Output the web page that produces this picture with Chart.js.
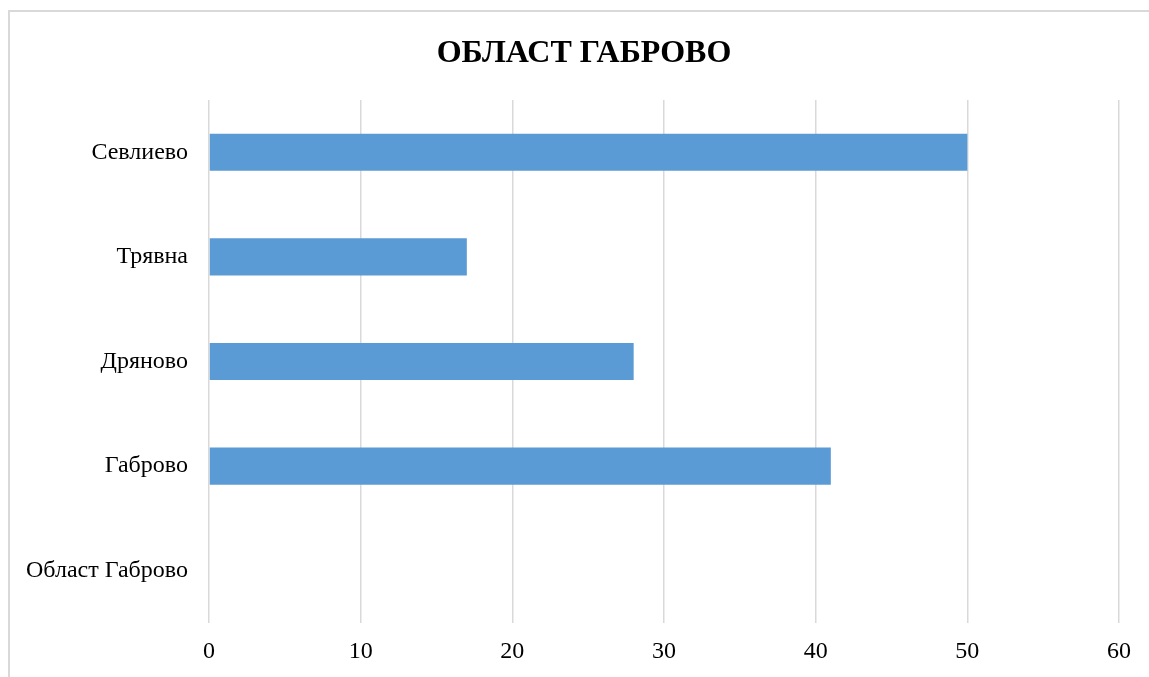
<!DOCTYPE html>
<html>
<head>
<meta charset="utf-8">
<script src="https://cdn.jsdelivr.net/npm/chart.js@4"></script>
<style>
html,body{margin:0;padding:0;background:#fff;overflow:hidden;}
#wrap{position:relative;width:1149px;height:677px;}
#frame{position:absolute;left:8px;top:10px;width:1300px;height:900px;border:2px solid #d9d9d9;box-sizing:border-box;}
canvas{position:absolute;left:0;top:0;}
</style>
</head>
<body>
<div id="wrap">
<div id="frame"></div>
<canvas id="c" width="1149" height="677"></canvas>
</div>
<script>
const chartTitle = "ОБЛАСТ ГАБРОВО";
const categories = ["Севлиево", "Трявна", "Дряново", "Габрово", "Област Габрово"];
const values = [50, 17, 28, 41, null];
const xTicks = [0, 10, 20, 30, 40, 50, 60];

const serif = "'Liberation Serif', 'Times New Roman', serif";

const titlePlugin = {
  id: 'frameTitle',
  afterDraw(chart) {
    const ctx = chart.ctx;
    ctx.save();
    ctx.font = "bold 32px " + serif;
    ctx.fillStyle = '#000';
    ctx.textAlign = 'center';
    ctx.textBaseline = 'alphabetic';
    ctx.fillText(chartTitle, 584, 62);
    ctx.restore();
  }
};

new Chart(document.getElementById('c'), {
  type: 'bar',
  data: {
    labels: categories,
    datasets: [{
      data: values,
      backgroundColor: '#5b9bd5',
      borderWidth: 0,
      barPercentage: 0.355,
      categoryPercentage: 1.0
    }]
  },
  plugins: [titlePlugin],
  options: {
    indexAxis: 'y',
    responsive: false,
    animation: false,
    devicePixelRatio: 1,
    layout: { padding: { left: 0, right: 30, top: 100, bottom: 0 } },
    plugins: {
      legend: { display: false },
      tooltip: { enabled: false },
      title: { display: false }
    },
    scales: {
      x: {
        min: xTicks[0],
        max: xTicks[xTicks.length - 1],
        afterBuildTicks: (s) => { s.ticks = xTicks.map(v => ({ value: v })); },
        grid: { color: '#d9d9d9', lineWidth: 1.5, drawTicks: false },
        border: { display: false },
        ticks: { color: '#000', font: { family: serif, size: 24 }, padding: 14 },
        afterFit: (s) => { s.height = 54; }
      },
      y: {
        grid: { display: false, drawTicks: false },
        border: { display: false },
        ticks: { color: '#000', font: { family: serif, size: 24 }, padding: 21 },
        afterFit: (s) => { s.width = 209; }
      }
    }
  }
});
</script>
</body>
</html>
